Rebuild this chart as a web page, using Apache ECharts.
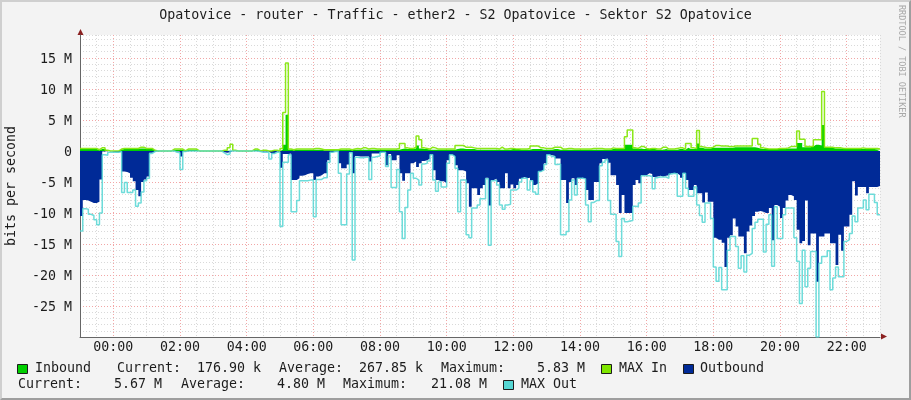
<!DOCTYPE html>
<html lang="en">

<head>
    <meta charset="UTF-8">
    <title>Opatovice - router - Traffic - ether2</title>
    <script src="https://cdn.jsdelivr.net/npm/echarts@6/dist/echarts.min.js"></script>
    <style>
        html, body { margin: 0; padding: 0; background: #f3f3f3; }
        #main { position: absolute; left: 0; top: 0; width: 911px; height: 400px; }
        #frame {
            position: absolute; left: 0; top: 0; width: 911px; height: 400px; box-sizing: border-box;
            border: 2px solid; border-color: #cfcfcf #9e9e9e #9e9e9e #cfcfcf; pointer-events: none;
        }
    </style>
</head>

<body>
    <div id="main"></div>
    <div id="frame"></div>

    <script type="text/javascript">
        // one row = 12 samples = one hour, values in Mbit/s, first sample is 23:00 of the day before
        var inbound = [
            .3, .3, .3, .3, .3, .3, .1, .3, .3, 0, 0, 0,
            0, 0, .2, .3, .3, .3, .3, .3, .3, .4, .4, .3,
            .3, .3, .1, 0, 0, 0, 0, 0, 0, .2, .2, .2,
            .2, 0, .2, .2, .2, .2, 0, 0, 0, 0, 0, 0,
            0, 0, 0, .05, .05, .05, .05, 0, 0, 0, 0, 0,
            0, 0, .2, .2, 0, .05, .05, 0, 0, .05, .05, 0,
            .2, 1.0, 5.83, .2, .1, .2, .2, .2, .2, .2, .2, .2,
            .2, .2, .2, .1, .1, .1, .1, .1, .1, .2, .2, .2,
            .2, .1, .2, .2, .2, .2, .2, .2, .2, .2, .2, .2,
            .2, .2, .2, .2, .2, .2, .2, .3, .4, .3, .3, .3,
            .4, .9, .4, .3, .3, .2, .2, .2, .2, .2, .2, .2,
            .2, .2, .2, .3, .4, .4, .3, .3, .3, .3, .2, .2,
            .2, .2, .2, .2, .2, .2, .2, .2, .2, .2, .2, .3,
            .3, .3, .2, .2, .2, .2, .3, .3, .3, .3, .2, .2,
            .2, .2, .3, .3, .2, .2, .2, .2, .2, .2, .2, .2,
            .2, .2, .2, .2, .2, .2, .2, .2, .2, .2, .2, .3,
            .3, .3, .3, .3, 1, 1, 1, .4, .3, .4, .3, .3,
            .3, .3, .3, .2, .2, .2, .3, .2, .2, .2, .2, .3,
            .3, .2, .5, .3, .3, .3, 1.2, .5, .4, .4, .4, .5,
            .5, .5, .5, .5, .5, .5, .5, .6, .6, .6, .6, .6,
            .6, .6, .6, .5, .4, .3, .3, .3, .3, .3, .3, .3,
            .3, .3, .4, .4, .4, .4, 1.3, 1.3, .6, .6, .6, .7,
            1, 1, .9, 4.2, .6, .5, .5, .4, .4, .4, .4, .3,
            .3, .3, .3, .3, .3, .3, .3, .3, .3, .3, .25, .177
        ];
        var maxIn = [
            .4, .4, .4, .4, .4, .4, .2, .5, .5, .1, 0, 0,
            0, 0, .3, .4, .4, .4, .4, .4, .4, .6, .6, .4,
            .4, .4, .1, 0, 0, 0, 0, 0, 0, .3, .3, .3,
            .3, 0, .3, .3, .3, .3, 0, 0, 0, 0, 0, 0,
            0, 0, 0, .1, .1, .5, 1.1, .1, 0, 0, 0, 0,
            0, 0, .3, .3, 0, .1, .1, 0, 0, .1, .1, 0,
            .4, 6.2, 14.2, .3, .2, .3, .3, .3, .3, .3, .3, .3,
            .4, .4, .3, .2, .2, .2, .2, .2, .2, .3, .3, .3,
            .3, .2, .3, .4, .3, .5, .5, .3, .4, .4, .3, .3,
            .3, .3, .3, .3, .3, .3, .4, 1.2, 1.2, .5, .4, .4,
            .6, 2.4, 1.8, .5, .4, .3, .6, .5, .3, .3, .3, .3,
            .3, .3, .3, .9, .9, .9, .6, .6, .6, .5, .4, .4,
            .4, .4, .4, .4, .4, .4, .3, .6, .3, .3, .4, .4,
            .3, .3, .3, .3, .3, .4, .8, .8, .8, .5, .5, .4,
            .4, .4, .6, .6, .6, .3, .3, .4, .4, .3, .3, .3,
            .3, .3, .3, .3, .4, .4, .4, .4, .3, .3, .3, .5,
            .4, .4, .4, .4, 2.3, 3.4, 3.4, .5, .4, .7, .7, .4,
            .3, .4, .4, .3, .3, .6, .6, .3, .3, .3, .4, .5,
            .5, .3, 1.2, 1.2, .5, .4, 3.3, .7, .6, .5, .5, .6,
            .9, .9, .8, .8, .8, .7, .7, .8, .8, .8, .8, .8,
            .8, .8, 2, 2, 1.1, .5, .4, .3, .3, .3, .3, .4,
            .4, .4, .5, .7, .7, .7, 3.2, 1.9, 1.9, .7, .7, .7,
            1.8, 1.8, 1.8, 9.6, .6, .6, .6, .5, .5, .5, .4, .4,
            .4, .4, .4, .4, .4, .5, .4, .4, .4, .4, .4, .3
        ];
        var outbound = [
            10.5, 7.9, 8.0, 8.2, 8.4, 8.4, 8.2, 4.6, .1, 0, 0, .1,
            .2, .2, .1, 3.3, 3.4, 3.6, 4.3, 4.9, 6.3, 7.3, 5.0, 4.6,
            4.1, .3, .1, 0, 0, 0, 0, 0, 0, 0, .1, .1,
            .9, .1, 0, 0, 0, 0, 0, 0, 0, 0, 0, 0,
            0, 0, 0, .2, .3, .2, 0, 0, 0, 0, 0, 0,
            0, 0, 0, 0, .1, .1, .1, .1, .4, .4, .1, .1,
            2.7, .5, .5, .4, 4.7, 4.7, 4.4, 4.0, 3.9, 3.7, 3.6, 3.6,
            4.7, 4.1, 3.9, 3.6, 3.6, 1.5, .2, .1, .1, 2.0, 2.8, 2.8,
            2.2, .2, 3.6, .8, .9, .9, .9, .9, 1.7, .4, .4, .4,
            .15, .15, 2.3, .5, 1.5, 1.5, .7, 3.6, 4.8, 3.6, 3.6, 2.0,
            1.7, 2.6, 2.0, 1.6, 1.5, 1.2, .6, 3.1, 4.7, 4.9, 4.9, 5.2,
            1.5, .6, .8, 2.3, 3.1, 3.1, 3.3, 5.2, 9, 6, 6, 7.1,
            6, 5.5, 4.3, 8.8, 4.7, 4.5, 5, 6, 6, 3.6, 6, 5.4,
            6, 5.5, 4.5, 4.2, 4.4, 4.3, 4.7, 5.5, 5.2, 3.3, 3, 2,
            .6, .7, .8, 1.2, 1.2, 4.7, 4.7, 8.4, 5, 4.4, 5.5, 4.4,
            4.3, 4.5, 6.3, 7.9, 7.9, 5, 5, 2, 1.3, 1.2, 1.9, 3.9,
            3.9, 5.5, 10, 7.1, 10, 10, 10, 5.5, 4.7, 5.2, 3.9, 3.9,
            3.6, 3.7, 4.2, 4.1, 4, 4.1, 4, 3.9, 3.6, 3.6, 3.6, 3.9,
            4.3, 3.6, 4.7, 6.3, 6.3, 5.5, 6.8, 6.8, 8.3, 6.7, 8.2, 8.2,
            14, 14.3, 14.3, 14.8, 18.7, 14, 13.6, 10.9, 12.2, 13.8, 13.8, 16.5,
            13, 12, 10.5, 9.8, 9.7, 9.8, 10, 10, 9.2, 14.4, 8.7, 9,
            10.8, 9.2, 8, 7.1, 7.3, 7.9, 12.7, 14.9, 14.5, 8, 15.2, 13.3,
            13.3, 21.08, 13.8, 13.8, 13.3, 13.3, 14.9, 14.9, 18.4, 13.5, 16.1, 12.2,
            12.2, 10.3, 4.9, 7.2, 5.8, 5.8, 5.8, 6.8, 5.8, 5.8, 5.8, 5.67
        ];
        var maxOut = [
            12.9, 9.3, 9.4, 10.2, 10.4, 11.1, 11.9, 10, .6, .7, .2, .2,
            .2, .2, .1, 6.7, 5.1, 6.7, 6.7, 6.3, 8.9, 8.4, 6.6, 4.8,
            4.4, .4, .1, 0, 0, 0, 0, 0, 0, 0, .2, .3,
            3.0, .1, 0, 0, 0, 0, 0, 0, 0, 0, 0, 0,
            0, 0, 0, .3, .6, .5, 0, 0, 0, 0, 0, 0,
            0, 0, 0, 0, .1, .2, .2, .2, 1.3, .4, .2, .2,
            12.2, 1.8, 1.8, .6, 9.8, 9.8, 8.0, 4.8, 4.8, 4.8, 4.7, 4.7,
            10.6, 4.6, 4.6, 4.3, 4.3, 1.8, .2, .1, .1, 3.6, 11.9, 11.9,
            3.7, .3, 17.6, 1.0, 1.1, 1.1, 1.0, 1.0, 4.6, 1.0, .9, .8,
            .2, .2, 2.5, .8, 5.9, 5.9, 3.0, 9.8, 14.1, 9.1, 6.3, 3.6,
            4.4, 4.7, 5.5, 2.1, 2.0, 1.6, .6, 4.7, 6.5, 5.0, 5.8, 5.8,
            2.0, .6, .9, 2.8, 9.8, 4.7, 4.7, 13.5, 14, 9.2, 9.2, 8.7,
            7.7, 7.7, 4.5, 15.2, 4.8, 4.7, 5.5, 8.7, 9.4, 8.7, 8.6, 6.3,
            6.3, 6, 5, 4.4, 4.4, 6.3, 4.8, 6.6, 7, 3.3, 3.1, 2.2,
            .6, .9, .9, 2.2, 2.1, 13.5, 13.5, 13, 7.9, 4.7, 7.1, 4.4,
            4.4, 4.5, 8.7, 11.4, 8.3, 8, 8, 2.4, 1.8, 1.4, 8, 10.2,
            10.2, 14.6, 17, 10.9, 11.4, 11.3, 11.2, 8.9, 9, 8.4, 4, 4,
            4, 4.1, 6.1, 4.3, 4.2, 4.2, 4.2, 4.4, 3.7, 3.6, 3.7, 7.3,
            7.3, 3.6, 6, 7.3, 7.3, 5.8, 8.7, 10.4, 11.5, 8.4, 8.4, 10.9,
            18.7, 21, 18.8, 22.4, 22.4, 16, 13.8, 13.8, 15.4, 18.9, 16.9, 19.5,
            16.8, 16.5, 12.5, 11.5, 11, 11, 16.3, 11.8, 10.3, 18.6, 9, 14.1,
            14.1, 10.3, 9.2, 9.2, 9.2, 14, 17.8, 24.6, 16, 21.9, 18.9, 16.2,
            16.2, 30, 18.1, 17, 17, 16.1, 22.4, 20.5, 18.7, 20.3, 20.3, 14.6,
            14.3, 13.3, 10.5, 11.4, 9.2, 9.2, 7.9, 9.5, 7, 7, 8.3, 10.3
        ];

        var titleText = 'Opatovice - router - Traffic - ether2 - S2 Opatovice - Sektor S2 Opatovice';
        var yTitle = 'bits per second';
        var watermark = 'RRDTOOL / TOBI OETIKER';
        var legendTop = ['Inbound', 'Current:', '176.90 k', 'Average:', '267.85 k', 'Maximum:', '5.83 M', 'MAX In', 'Outbound'];
        var legendBottom = ['Current:', '5.67 M', 'Average:', '4.80 M', 'Maximum:', '21.08 M', 'MAX Out'];

        var mono = '"DejaVu Sans Mono", monospace';
        var textColor = '#1c1c1c';
        var gray = '#d9d9d9';
        var red = '#f2a6a6';

        // a sample holds until the next one, hours run from -1 to 23
        function toPoints(values, sign) {
            var points = values.map(function (v, i) {
                return [-1 + i / 12, sign * v];
            });
            points.push([23, sign * values[values.length - 1]]);
            return points;
        }

        function legendText(text, x, y) {
            return {
                type: 'text', x: x, y: y,
                style: { text: text, font: '13.3px ' + mono, fill: textColor, textVerticalAlign: 'middle' }
            };
        }

        function swatch(x, y, color) {
            return {
                type: 'rect', shape: { x: x, y: y, width: 10, height: 9 },
                style: { fill: color, stroke: '#1c1c1c', lineWidth: 1 }
            };
        }

        var topX = [35, 117, 197, 279, 359, 441, 537, 619, 700];
        var bottomX = [18, 114, 181, 277, 343, 431, 521];
        var graphics = [];
        legendTop.forEach(function (t, i) { graphics.push(legendText(t, topX[i], 368.5)); });
        legendBottom.forEach(function (t, i) { graphics.push(legendText(t, bottomX[i], 385)); });
        graphics.push(swatch(17.5, 364.5, '#00cf00'));
        graphics.push(swatch(601.5, 364.5, '#7fe600'));
        graphics.push(swatch(683.5, 364.5, '#002a97'));
        graphics.push(swatch(503.5, 380.5, '#55d6d3'));
        // axis arrows
        graphics.push({ type: 'polygon', shape: { points: [[80.5, 29], [77.5, 35], [83.5, 35]] }, style: { fill: '#8b2020' } });
        graphics.push({ type: 'polygon', shape: { points: [[887, 336.5], [881, 333.5], [881, 339.5]] }, style: { fill: '#8b2020' } });
        graphics.push({
            type: 'text', x: 906, y: 5, rotation: -Math.PI / 2,
            style: { text: watermark, font: '8.5px ' + mono, fill: '#a8a8a8' }
        });

        var myChart = echarts.init(document.getElementById('main'));
        var option = {
            backgroundColor: '#f3f3f3',
            animation: false,
            title: {
                text: titleText, left: 'center', top: 4,
                textStyle: { fontFamily: mono, fontSize: 13.3, fontWeight: 'normal', color: textColor }
            },
            grid: {
                left: 80, right: 31, top: 35, bottom: 63, show: true, backgroundColor: '#fff', borderWidth: 0,
                outerBoundsMode: 'none'
            },
            xAxis: {
                type: 'value', min: -1, max: 23, interval: 0.5,
                axisLine: { onZero: false, lineStyle: { color: '#666' } },
                axisTick: { show: false },
                splitLine: { show: true, lineStyle: { type: [1, 2], color: [gray, gray, red, gray] } },
                axisLabel: {
                    fontFamily: mono, fontSize: 13.3, color: textColor, margin: 4, hideOverlap: false,
                    formatter: function (v) {
                        if (v < 0 || v % 2 !== 0) return '';
                        return (v < 10 ? '0' : '') + v + ':00';
                    }
                }
            },
            yAxis: {
                type: 'value', min: -30, max: 18.7, interval: 1,
                name: yTitle, nameLocation: 'middle', nameGap: 62, nameRotate: 90,
                nameTextStyle: { fontFamily: mono, fontSize: 13.3, color: textColor },
                axisLine: { show: true, onZero: false, lineStyle: { color: '#666' } },
                axisTick: { show: false },
                splitLine: { show: true, lineStyle: { type: [1, 2], color: [red, gray, gray, gray, gray] } },
                axisLabel: {
                    fontFamily: mono, fontSize: 13.3, color: textColor, margin: 8,
                    rich: { v: { fontFamily: mono, fontSize: 13.3, color: textColor, padding: [4, 0, 0, 0] } },
                    formatter: function (v) {
                        if (v === -30 || v % 5 !== 0) return '';
                        return '{v|' + (v === 0 ? '0' : v + ' M') + '}';
                    }
                }
            },
            series: [{
                name: 'Inbound', type: 'line', step: 'end', symbol: 'none',
                lineStyle: { width: 0 }, areaStyle: { color: '#00cf00', opacity: 1 },
                data: toPoints(inbound, 1)
            }, {
                name: 'MAX In', type: 'line', step: 'end', symbol: 'none',
                lineStyle: { width: 1.5, color: '#7fe600', opacity: 0.9 },
                data: toPoints(maxIn, 1)
            }, {
                name: 'Outbound', type: 'line', step: 'end', symbol: 'none',
                lineStyle: { width: 0 }, areaStyle: { color: '#002a97', opacity: 1 },
                data: toPoints(outbound, -1)
            }, {
                name: 'MAX Out', type: 'line', step: 'end', symbol: 'none',
                lineStyle: { width: 1.5, color: '#55d6d3', opacity: 0.85 },
                data: toPoints(maxOut, -1)
            }],
            graphic: graphics
        };
        myChart.setOption(option);
    </script>
</body>

</html>
